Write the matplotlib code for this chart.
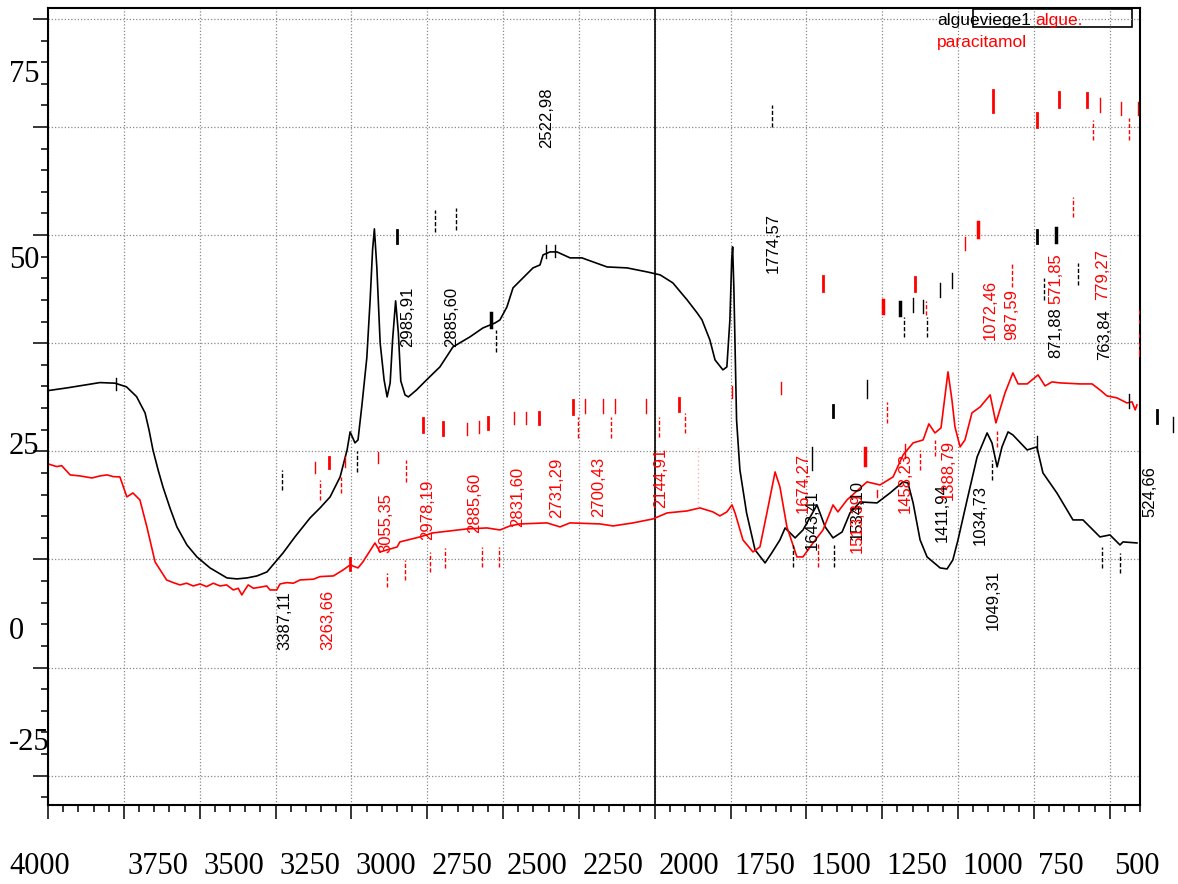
import numpy as np
import matplotlib.pyplot as plt
from matplotlib.ticker import MultipleLocator, FixedLocator
from matplotlib.transforms import ScaledTranslation, blended_transform_factory
from matplotlib.patches import Rectangle

# --- spectre algue vierge (noir) ---
wn_vierge = [4000, 3938, 3829, 3779, 3741, 3708, 3697, 3680, 3667, 3654, 3637, 3621, 3598, 3575,
             3542, 3509, 3466, 3410, 3377, 3344, 3311, 3278, 3225, 3186, 3136, 3103, 3070, 3037,
             3014, 3004, 2988, 2978, 2965, 2949, 2938, 2930,
             2924, 2916, 2905, 2892, 2882, 2872, 2864, 2854, 2845, 2837, 2823, 2812, 2785,
             2752, 2708, 2665, 2609, 2566, 2526, 2510, 2487, 2467, 2434, 2401, 2378, 2368,
             2345, 2322, 2279, 2240, 2157, 2091, 2025, 1982, 1940, 1893, 1860, 1844, 1818,
             1801, 1775, 1762, 1752, 1746, 1743, 1739, 1730, 1719, 1697, 1669, 1636, 1614,
             1587, 1570, 1537, 1511, 1465, 1438, 1412, 1382, 1356, 1323, 1267, 1224, 1181,
             1165, 1148, 1125, 1102, 1059, 1036, 1017, 1000, 970, 937, 904, 888, 871, 855,
             835, 819, 772, 740, 720, 674, 621, 588, 532, 499, 466, 456, 410]
t_vierge = [32.49, 32.85, 33.57, 33.49, 32.99, 31.68, 30.83, 29.49, 27.20, 24.50, 21.81, 19.52,
            16.70, 14.14, 11.71, 10.10, 8.62, 7.27, 7.14, 7.27, 7.54, 8.08, 10.64, 12.79, 15.35,
            16.70, 18.18, 20.87, 24.50, 26.93, 25.45, 25.85, 30.56, 36.89, 44.70, 51.43,
            54.26, 49.14, 38.91, 33.93, 31.64, 33.53, 39.31, 44.57, 40.26, 33.79,
            31.91, 31.64, 32.58, 33.93, 35.68, 38.37, 39.72, 40.93, 41.60, 42.01, 43.76, 46.32,
            47.66, 49.01, 49.41, 50.76, 51.16, 51.16, 50.36, 50.36, 49.14, 49.01, 48.47, 48.07,
            46.99, 44.70, 42.95, 42.01, 39.31, 36.62, 35.28, 35.68, 42.01, 50.09, 51.84, 46.45,
            28.54, 21.81, 16.02, 11.04, 9.29, 10.64, 12.39, 14.00, 12.66, 13.73, 17.10, 14.14,
            12.66, 13.46, 16.02, 17.50, 17.37, 18.71, 20.20, 20.06, 17.37, 12.39, 10.10, 8.62,
            8.48, 9.69, 12.39, 17.77, 23.56, 26.79, 25.45, 22.22, 24.91, 26.93, 26.52, 24.50,
            24.91, 21.41, 18.71, 15.08, 15.08, 12.79, 13.06, 11.71, 12.12, 11.98]

# --- spectre algue + paracetamol (rouge) ---
wn_para = [4000, 3971, 3955, 3927, 3894, 3855, 3829, 3805, 3785, 3763, 3740, 3720, 3697, 3674,
           3647, 3609, 3587, 3565, 3543, 3521, 3499, 3477, 3455, 3433, 3411, 3389, 3373, 3361,
           3351, 3340, 3323, 3301, 3279, 3268, 3246, 3235, 3213, 3191, 3169, 3125, 3103, 3059,
           3027, 3004, 2978, 2962, 2922, 2905, 2849, 2840, 2774, 2731, 2619, 2553, 2510, 2477,
           2444, 2355, 2312, 2279, 2180, 2137, 2071, 2006, 1959, 1893, 1851, 1808, 1785, 1762,
           1745, 1735, 1709, 1676, 1653, 1630, 1603, 1587, 1564, 1531, 1511, 1478, 1445, 1412,
           1396, 1366, 1300, 1257, 1214, 1181, 1148, 1115, 1096, 1076, 1056, 1033, 1020, 1010,
           993, 977, 954, 927, 894, 875, 845, 819, 802, 772, 736, 713, 690, 664, 598, 558, 532,
           509, 476, 443, 426, 416, 410]
t_para = [22.62, 22.26, 22.39, 21.14, 21.00, 20.73, 21.00, 21.14, 20.91, 20.87, 18.18, 18.71,
          17.77, 14.14, 9.42, 7.00, 6.64, 6.33, 6.56, 6.19, 6.46, 6.10, 6.56, 6.19, 6.33, 5.65,
          5.88, 4.98, 5.65, 6.33, 5.88, 6.02, 6.19, 5.65, 5.65, 6.46, 6.64, 6.56, 7.00, 7.10,
          7.45, 7.54, 8.35, 9.02, 8.62, 9.42, 11.98, 10.77, 11.44, 12.12, 12.79, 13.33, 13.87,
          14.00, 13.73, 14.27, 14.54, 14.68, 14.14, 14.68, 14.54, 14.27, 14.68, 15.21, 16.02,
          16.29, 16.70, 16.16, 15.62, 16.16, 17.10, 16.02, 12.39, 10.77, 11.44, 16.02, 21.54,
          19.52, 14.14, 10.10, 10.10, 11.98, 13.73, 17.10, 16.16, 17.77, 20.20, 19.79, 20.87,
          23.83, 25.45, 25.85, 28.01, 26.79, 27.47, 35.01, 31.24, 27.60, 24.91, 25.85, 29.49,
          30.29, 31.91, 28.14, 32.18, 34.87, 33.39, 33.39, 34.60, 33.12, 33.66, 33.53, 33.39,
          33.39, 32.58, 31.78, 31.51, 30.83, 30.97, 29.89, 30.56]

# --- reperes de pics (x, bas, haut, style, epaisseur) ---
marks_vierge = [
    (3776, 32.6, 34.2, '-', 1), (3229, 19.1, 21.8, '--', 1), (2981, 21.5, 24.4, '--', 1),
    (2848, 52.4, 54.1, '-', 2), (2724, 53.9, 56.8, '--', 1), (2655, 54.1, 57.1, '--', 1),
    (2540, 41.1, 43.0, '-', 2.5), (2523, 37.7, 40.7, '--', 1), (2358, 50.4, 52.1, '-', 1),
    (2329, 50.5, 52.1, '-', 1), (1613, 68.0, 70.9, '--', 1), (1544, 8.8, 11.7, '--', 1),
    (1409, 8.8, 11.7, '--', 1), (1481, 21.8, 24.9, '-', 1), (1412, 28.9, 30.6, '-', 2),
    (1300, 31.5, 33.9, '-', 1), (1191, 42.7, 44.4, '-', 2.5), (1178, 39.7, 42.4, '--', 1),
    (1148, 43.1, 45.0, '-', 1), (1115, 42.9, 44.7, '-', 1), (1102, 39.7, 42.4, '--', 1),
    (1059, 45.1, 47.0, '-', 1), (1020, 46.3, 48.3, '-', 1), (888, 20.5, 23.2, '--', 1),
    (740, 24.3, 26.4, '-', 1), (740, 52.4, 54.1, '-', 2), (677, 52.5, 54.4, '-', 2.5),
    (717, 44.7, 47.7, '--', 1), (604, 46.7, 49.7, '--', 1), (525, 8.6, 11.4, '--', 1),
    (466, 7.9, 10.6, '--', 1), (436, 30.2, 32.0, '-', 1), (344, 28.1, 29.9, '-', 2),
    (291, 26.9, 28.9, '-', 1),
]
marks_para = [
    (3120, 21.4, 22.9, '-', 1), (3103, 17.8, 20.5, '--', 1), (3074, 22.1, 23.6, '-', 2),
    (3021, 22.2, 23.6, '-', 1), (3034, 18.7, 20.9, '--', 1), (2912, 22.7, 24.2, '-', 1),
    (3004, 8.3, 10.0, '-', 2), (2882, 6.1, 7.9, '--', 1), (2764, 26.9, 28.8, '-', 2),
    (2698, 26.5, 28.3, '-', 2), (2619, 26.5, 28.1, '-', 1), (2579, 26.8, 28.4, '-', 1),
    (2549, 27.3, 29.0, '-', 2), (2464, 28.0, 29.6, '-', 1), (2424, 28.0, 29.6, '-', 1),
    (2381, 28.0, 29.6, '-', 2), (2269, 29.4, 31.2, '-', 2), (2230, 29.5, 31.4, '-', 1),
    (2170, 29.5, 31.4, '-', 1), (2131, 29.5, 31.4, '-', 1), (2029, 29.5, 31.4, '-', 1),
    (1920, 29.8, 31.5, '-', 2), (2253, 26.1, 28.9, '--', 1), (2144, 26.1, 28.9, '--', 1),
    (1986, 26.3, 29.0, '--', 1), (1900, 26.8, 29.5, '--', 1), (1745, 31.5, 33.1, '-', 1),
    (1584, 32.0, 33.7, '-', 1), (2820, 20.2, 23.2, '--', 1), (2823, 7.0, 9.7, '--', 1),
    (2741, 8.1, 10.8, '--', 1), (2691, 8.6, 11.3, '--', 1), (2569, 8.8, 11.4, '--', 1),
    (2513, 8.8, 11.4, '--', 1), (885, 70.0, 73.0, '-', 2), (667, 70.7, 72.7, '-', 2),
    (740, 68.0, 69.9, '-', 2), (575, 70.7, 72.6, '-', 2), (532, 70.0, 71.9, '-', 1),
    (555, 66.2, 68.9, '--', 1), (463, 69.6, 71.4, '-', 1), (436, 66.2, 69.2, '--', 1),
    (407, 69.6, 71.4, '-', 1), (621, 55.9, 58.6, '--', 1), (934, 53.2, 55.2, '-', 2.5),
    (977, 51.4, 53.2, '-', 1), (1445, 45.9, 47.9, '-', 2), (1142, 45.9, 47.8, '-', 2),
    (1307, 22.5, 24.8, '-', 2.5), (1234, 28.1, 31.0, '--', 1), (1175, 23.4, 25.3, '-', 1),
    (1125, 21.8, 24.5, '--', 1), (1076, 23.7, 25.9, '--', 1), (871, 24.9, 27.1, '--', 1),
    (1461, 8.8, 12.0, '--', 1), (1267, 18.2, 19.1, '-', 1), (1247, 42.9, 44.7, '-', 2.5),
    (1105, 42.7, 44.6, '--', 1), (822, 46.4, 49.8, '--', 1),
]

# --- etiquettes de pics ---
lbl_vierge = ["2522,98", "1774,57", "2985,91", "2885,60", "3387,11", "1049,31", "524,66",
              "871,88", "763,84", "1411,94", "1643,41", "1534,10", "1034,73"]
lbl_vierge_x = [2355, 1610, 2816, 2671, 3219, 885, 367, 677, 515, 1053, 1481, 1333, 927]
lbl_vierge_y = [65.2, 48.3, 38.4, 38.4, -2.4, 0.3, 15.5, 36.9, 36.6, 12.1, 11.0, 12.4, 11.7]

lbl_para = ["3263,66", "3055,35", "2978,19", "2885,60", "2831,60", "2731,29", "2700,43",
            "2144,91", "1674,27", "1513,39", "1458,23", "1388,79", "1072,46", "987,59",
            "571,85", "779,27", "709,93"]
lbl_para_x = [3077, 2886, 2747, 2592, 2451, 2322, 2184, 1982, 1511, 1333, 1175, 1033, 894,
              822, 677, 522, 377]
lbl_para_y = [-2.4, 10.6, 12.4, 13.3, 14.1, 15.4, 15.5, 16.7, 16.0, 10.6, 16.0, 17.8, 39.3,
              39.3, 44.2, 44.7, 37.0]

xtick_vals = [4000, 3750, 3500, 3250, 3000, 2750, 2500, 2250, 2000, 1750, 1500, 1250, 1000, 750, 500]
ytick_text = ["75", "50", "25", "0", "-25"]
ytick_pos = [75, 50, 25, 0, -14.95]

RED = '#ff0000'
serif = 'Liberation Serif'
sans = 'Liberation Sans'

fig = plt.figure(figsize=(11.78, 8.84), dpi=100, facecolor='white')
ax = fig.add_axes([48 / 1178, 79 / 884, 1092 / 1178, 797 / 884])
ax.set_xlim(4000, 400)
ax.set_ylim(-23.3, 84.0)

# grille
ygrid = np.arange(-19.35, 84, 14.555)
ax.yaxis.set_major_locator(FixedLocator(ygrid))
ax.yaxis.set_minor_locator(FixedLocator(np.arange(-19.35 - 2.911, 84, 2.911)))
ax.xaxis.set_minor_locator(MultipleLocator(50))
ax.set_xticks(xtick_vals, [str(v) for v in xtick_vals])
ax.set_yticklabels([])
ax.grid(True, which='major', color='#8a8a8a', linestyle=(0, (1, 1.6)), linewidth=0.9)

ax.tick_params(axis='x', which='major', direction='out', length=10, width=1.1, pad=23.5,
               labelsize=22)
ax.tick_params(axis='x', which='minor', direction='out', length=5, width=1.1)
ax.tick_params(axis='y', which='major', direction='out', length=11, width=1.1)
ax.tick_params(axis='y', which='minor', direction='out', length=5, width=1.1)
for sp in ax.spines.values():
    sp.set_linewidth(1.5)

for i, lab in enumerate(ax.get_xticklabels()):
    lab.set_fontfamily(serif)
    lab.set_ha('left')
    dx = -39 if i == 0 else 4
    lab.set_transform(lab.get_transform() + ScaledTranslation(dx / 100, 0, fig.dpi_scale_trans))

ytrans = blended_transform_factory(ax.transAxes, ax.transData)
for s, p in zip(ytick_text, ytick_pos):
    ax.text(-0.0357, p, s, transform=ytrans, ha='left', va='center', fontsize=22,
            family=serif, clip_on=False)

ax.axvline(2000, color='black', linewidth=1.2)

# spectres
ax.plot(wn_vierge, t_vierge, color='black', linewidth=1.2)
ax.plot(wn_para, t_para, color=RED, linewidth=1.2)

for marks, col in [(marks_vierge, 'black'), (marks_para, RED)]:
    for x, y0, y1, ls, w in marks:
        style = (0, (3, 1.5)) if ls == '--' else '-'
        ax.plot([x, x], [y0, y1], color=col, linestyle=style, linewidth=1.0 * w,
                clip_on=False)
ax.plot([1857, 1857], [16.8, 24.8], color='#ffb0b0', linestyle=(0, (1, 2)), linewidth=1)

for s, x, y in zip(lbl_vierge, lbl_vierge_x, lbl_vierge_y):
    ax.text(x, y, s, rotation=90, ha='center', va='bottom', fontsize=12, family=sans,
            color='black', clip_on=False)
for s, x, y in zip(lbl_para, lbl_para_x, lbl_para_y):
    ax.text(x, y, s, rotation=90, ha='center', va='bottom', fontsize=12, family=sans,
            color=RED, clip_on=(s == "709,93"))

# legende
ax.add_patch(Rectangle((0.8471, 0.9762), 0.1456, 0.0225, transform=ax.transAxes,
                       fill=False, edgecolor='black', linewidth=1.2))
ax.text(0.8141, 0.9837, "algueviege1", transform=ax.transAxes, ha='left', va='center',
        fontsize=12.5, family=sans, color='black')
ax.text(0.9038, 0.9837, "algue.", transform=ax.transAxes, ha='left', va='center',
        fontsize=12.5, family=sans, color=RED)
ax.text(0.8141, 0.9573, "paracitamol", transform=ax.transAxes, ha='left', va='center',
        fontsize=12.5, family=sans, color=RED)

fig.savefig('out.png', dpi=100, facecolor='white')
